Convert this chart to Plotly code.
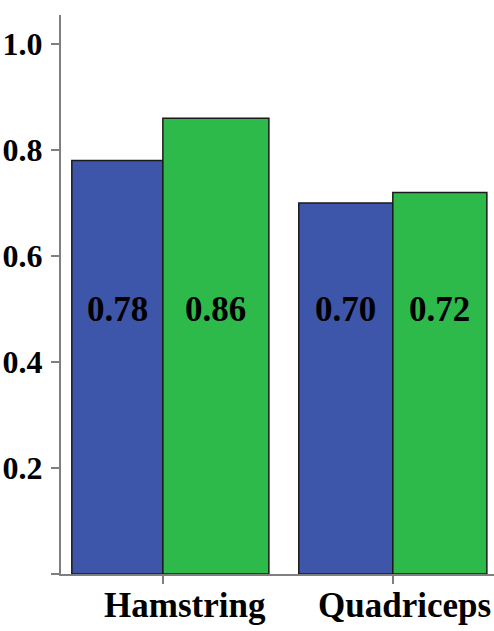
import plotly.graph_objects as go

categories = ["Hamstring", "Quadriceps"]
series_a = [0.78, 0.70]
series_b = [0.86, 0.72]
labels_a = ["0.78", "0.70"]
labels_b = ["0.86", "0.72"]
y_ticks = [0, 0.2, 0.4, 0.6, 0.8, 1.0]
y_tick_labels = ["", "0.2", "0.4", "0.6", "0.8", "1.0"]

BLUE = "#3E56AA"
GREEN = "#2EBA4A"
EDGE = "#1a1a1a"
AXIS = "#7f7f7f"
FONT = "Liberation Serif, Times New Roman, serif"

idx = list(range(len(categories)))
a_width = [0.396, 0.409]
b_width = [0.461, 0.409]
a_offset = [-w for w in a_width]
b_offset = [0 for _ in b_width]

fig = go.Figure()
fig.add_trace(go.Bar(x=idx, y=series_a, width=a_width, offset=a_offset,
                     marker=dict(color=BLUE, line=dict(color=EDGE, width=1.5)),
                     hoverinfo="skip"))
fig.add_trace(go.Bar(x=idx, y=series_b, width=b_width, offset=b_offset,
                     marker=dict(color=GREEN, line=dict(color=EDGE, width=1.5)),
                     hoverinfo="skip"))

annotations = []
for i in idx:
    annotations.append(dict(x=i + a_offset[i] + a_width[i] / 2, y=0.5, xref="x", yref="y",
                            text=labels_a[i], showarrow=False,
                            font=dict(family=FONT, size=35, color="black", weight="bold")))
    annotations.append(dict(x=i + b_offset[i] + b_width[i] / 2, y=0.5, xref="x", yref="y",
                            text=labels_b[i], showarrow=False,
                            font=dict(family=FONT, size=35, color="black", weight="bold")))
cat_shift = [22, 12]
for i, c in enumerate(categories):
    annotations.append(dict(x=i, y=0, xref="x", yref="paper", yanchor="top",
                            yshift=-10, xshift=cat_shift[i], text=c, showarrow=False,
                            font=dict(family=FONT, size=35, color="black", weight="bold")))

fig.update_layout(
    width=494, height=631,
    margin=dict(l=61, r=0, t=15, b=57, autoexpand=False),
    paper_bgcolor="white", plot_bgcolor="white",
    showlegend=False,
    barmode="overlay",
    annotations=annotations,
    xaxis=dict(range=[-0.443, 1.44], tickvals=idx, showticklabels=False,
               ticks="outside", ticklen=8, tickwidth=1.5, tickcolor=AXIS,
               showline=True, linecolor=AXIS, linewidth=2,
               showgrid=False, zeroline=False, automargin=False),
    yaxis=dict(range=[0, 1.0547], tickvals=y_ticks, ticktext=y_tick_labels,
               ticks="outside", ticklen=8, tickwidth=1.5, tickcolor=AXIS,
               showline=True, linecolor=AXIS, linewidth=2,
               showgrid=False, zeroline=False, ticklabelstandoff=2, automargin=False,
               tickfont=dict(family=FONT, size=32, color="black", weight="bold")),
)

fig.write_html("out.html")
